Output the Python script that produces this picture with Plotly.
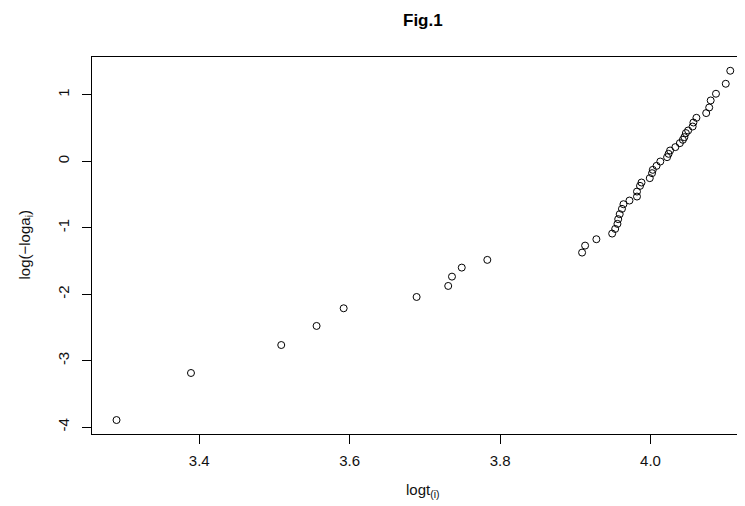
import plotly.graph_objects as go

# Data (logt_(i), log(-log a_i))
logt = [3.290, 3.389, 3.509, 3.556, 3.592, 3.689, 3.731, 3.736, 3.749, 3.783,
        3.909, 3.913, 3.928, 3.949, 3.953, 3.956, 3.957, 3.959, 3.962, 3.964,
        3.972, 3.982, 3.982, 3.986, 3.988, 3.999, 4.002, 4.003, 4.008, 4.013,
        4.022, 4.024, 4.026, 4.033, 4.039, 4.043, 4.045, 4.047, 4.050, 4.056,
        4.057, 4.061, 4.074, 4.078, 4.080, 4.087, 4.100, 4.106]
loglog = [-3.893, -3.185, -2.764, -2.477, -2.211, -2.041, -1.875, -1.735, -1.599, -1.483,
          -1.373, -1.268, -1.172, -1.087, -1.017, -0.941, -0.870, -0.795, -0.715, -0.645,
          -0.590, -0.530, -0.455, -0.369, -0.319, -0.253, -0.178, -0.128, -0.068, -0.003,
          0.063, 0.113, 0.163, 0.214, 0.274, 0.324, 0.364, 0.425, 0.464, 0.524,
          0.584, 0.655, 0.726, 0.810, 0.916, 1.017, 1.167, 1.363]

x_ticks = [3.4, 3.6, 3.8, 4.0]
x_tick_labels = ["3.4", "3.6", "3.8", "4.0"]
y_ticks = [-4, -3, -2, -1, 0, 1]
y_tick_labels = ["-4", "-3", "-2", "-1", "0", "1"]

FONT = "Liberation Sans, Arial, sans-serif"

fig = go.Figure()
fig.add_trace(go.Scatter(
    x=logt, y=loglog, mode="markers",
    marker=dict(symbol="circle-open", size=7, color="black", line=dict(width=1, color="black")),
    showlegend=False,
))

# The page body has an 8px default margin, so the figure is sized/offset to compensate.
fig.update_layout(
    width=737, height=498,
    margin=dict(l=84, r=0, t=49, b=72),
    paper_bgcolor="white", plot_bgcolor="white",
    font=dict(family=FONT, size=15, color="#111"),
    xaxis=dict(
        range=[3.2574, 4.1256], tickvals=x_ticks, ticktext=x_tick_labels,
        ticks="outside", ticklen=9, tickcolor="black", tickwidth=1,
        showline=True, linecolor="black", linewidth=1, mirror=True,
        showgrid=False, zeroline=False, ticklabelstandoff=4,
        tickfont=dict(family=FONT, size=15, color="#111"),
    ),
    yaxis=dict(
        range=[-4.103, 1.570], tickvals=y_ticks, ticktext=y_tick_labels,
        ticks="outside", ticklen=9, tickcolor="black", tickwidth=1,
        showline=True, linecolor="black", linewidth=1, mirror=False,
        showgrid=False, zeroline=False, tickangle=-90, ticklabelstandoff=7,
        tickfont=dict(family=FONT, size=15, color="#111"),
    ),
    annotations=[
        dict(text="<b>Fig.1</b>", x=0.507, y=1.098, xref="paper", yref="paper",
             xanchor="center", yanchor="middle", showarrow=False,
             font=dict(family=FONT, size=17, color="black")),
        dict(text="logt<sub>(i)</sub>", x=0.507, y=-0.151, xref="paper", yref="paper",
             xanchor="center", yanchor="middle", showarrow=False,
             font=dict(family=FONT, size=15, color="#111")),
        dict(text="log(\u2212loga<sub>i</sub>)", x=-0.1026, y=0.5, xref="paper", yref="paper",
             xanchor="center", yanchor="middle", showarrow=False, textangle=-90,
             font=dict(family=FONT, size=15, color="#111")),
    ],
)

fig.write_html("out.html")
